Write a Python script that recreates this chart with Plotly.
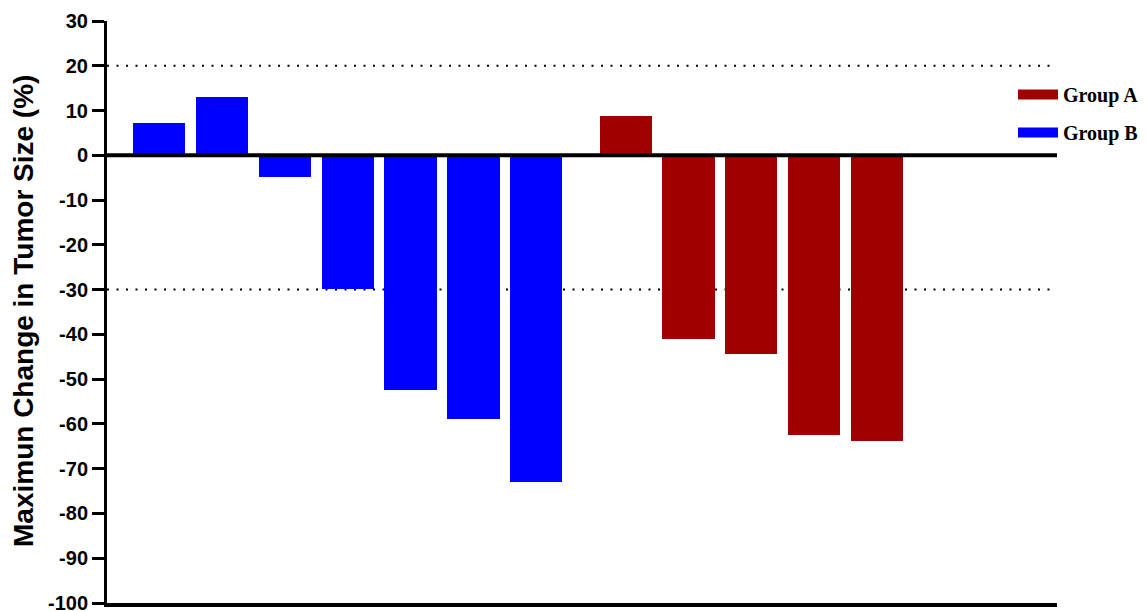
import plotly.graph_objects as go

# Data
group_b_patients = [1, 2, 3, 4, 5, 6, 7]
group_b_values = [7.2, 13.0, -4.8, -29.8, -52.5, -58.8, -73.0]
group_a_patients = [8, 9, 10, 11, 12]
group_a_values = [8.7, -41.0, -44.3, -62.4, -63.8]
y_ticks = [30, 20, 10, 0, -10, -20, -30, -40, -50, -60, -70, -80, -90, -100]
ref_levels = [20, -30]

RED = "#A00000"
BLUE = "#0000FF"
GROUP_GAP = 0.42  # extra spacing between groups
xa = [p + GROUP_GAP for p in group_a_patients]

fig = go.Figure()
fig.add_trace(go.Bar(x=xa, y=group_a_values, name="Group A", width=0.83, showlegend=False,
                     marker=dict(color=RED, line=dict(width=0))))
fig.add_trace(go.Bar(x=group_b_patients, y=group_b_values, name="Group B", width=0.83, showlegend=False,
                     marker=dict(color=BLUE, line=dict(width=0))))
# legend entries (wide rectangular swatches)
fig.add_trace(go.Scatter(x=[None], y=[None], mode="lines", name="Group A", legendgroup="a",
                         line=dict(color=RED, width=11)))
fig.add_trace(go.Scatter(x=[None], y=[None], mode="lines", name="Group B", legendgroup="b",
                         line=dict(color=BLUE, width=11)))

for lv in ref_levels:
    fig.add_shape(type="line", xref="paper", x0=0, x1=1, y0=lv, y1=lv,
                  line=dict(color="black", width=2, dash="2px,7.5px"), layer="below")
fig.add_shape(type="line", xref="paper", x0=0, x1=1, y0=0, y1=0,
              line=dict(color="black", width=4), layer="above")

fig.add_annotation(text="Maximun Change in Tumor Size (%)", textangle=-90,
                   xref="paper", yref="paper", x=(23 - 107) / 950, y=(603 - 311) / 582,
                   xanchor="center", yanchor="middle", showarrow=False,
                   font=dict(family="Liberation Sans", size=28, color="black", weight="bold"))

fig.update_layout(
    width=1147, height=611,
    margin=dict(l=107, r=90, t=21, b=8, autoexpand=False),
    plot_bgcolor="white", paper_bgcolor="white",
    showlegend=True,
    legend=dict(x=(1013 - 107) / 950, y=(603 - 75) / 582, xanchor="left", yanchor="top",
                font=dict(family="Liberation Serif", size=20, color="black", weight="bold"),
                itemwidth=40, tracegroupgap=9, bgcolor="rgba(0,0,0,0)"),
    bargap=0,
)
fig.update_xaxes(range=[0.173, 15.28], showticklabels=False, ticks="", showgrid=False,
                 zeroline=False, showline=True, linecolor="black", linewidth=4)
fig.update_yaxes(range=[-100, 30], tickvals=y_ticks, ticktext=[str(v) for v in y_ticks],
                 ticks="outside", ticklen=12, tickwidth=3, tickcolor="black",
                 showline=True, linecolor="black", linewidth=3, showgrid=False, zeroline=False,
                 ticklabeloverflow="allow",
                 tickfont=dict(family="Liberation Sans", size=20, color="black", weight="bold"))

fig.write_html("out.html")
